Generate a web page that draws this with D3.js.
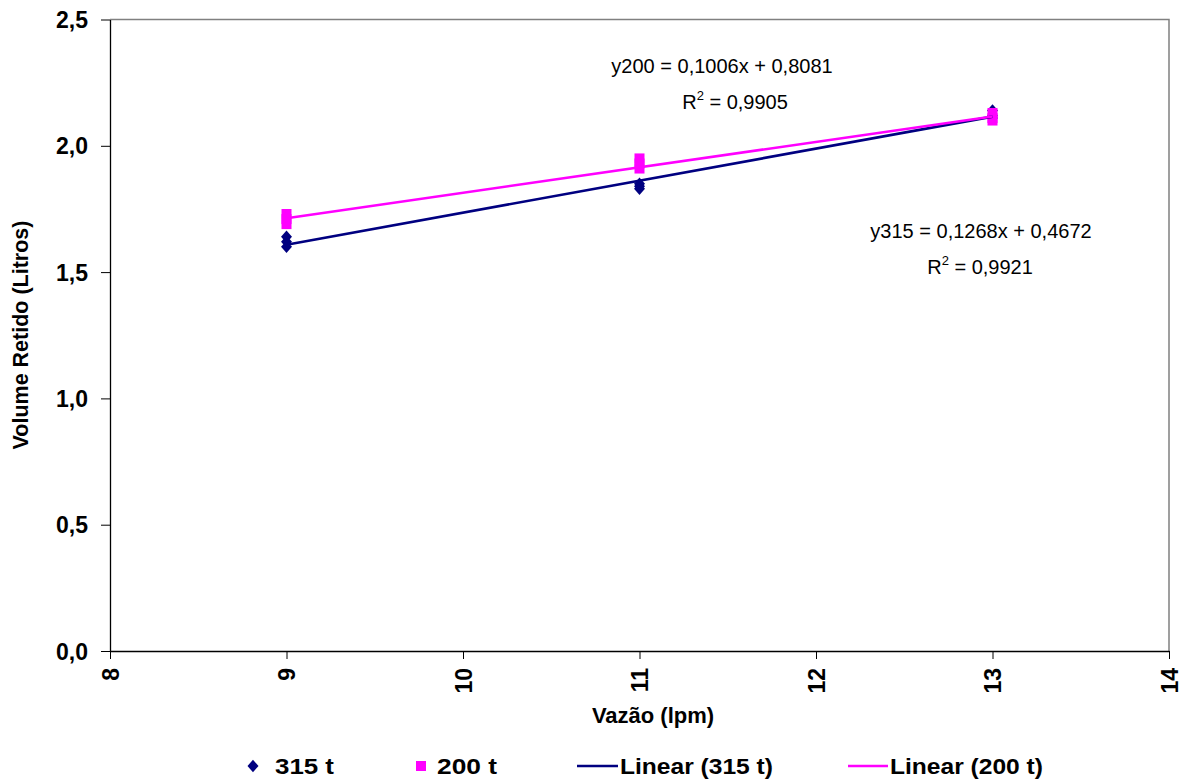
<!DOCTYPE html>
<html><head><meta charset="utf-8">
<script src="https://cdn.jsdelivr.net/npm/d3@7"></script>
<style>body{margin:0;background:#fff}svg{display:block}text{font-family:"Liberation Sans",Arial,sans-serif}</style>
</head><body><svg id="c" width="1184" height="783"></svg>
<script>
const xTicks = [8, 9, 10, 11, 12, 13, 14];
const yTicks = [0, 0.5, 1.0, 1.5, 2.0, 2.5];
const s315x = [9, 9, 9, 11, 11, 11, 13, 13, 13];
const s315y = [1.64, 1.62, 1.60, 1.85, 1.84, 1.83, 2.14, 2.12, 2.11];
const s200x = [9, 9, 9, 11, 11, 11, 13, 13, 13];
const s200y = [1.73, 1.71, 1.69, 1.95, 1.93, 1.91, 2.13, 2.11, 2.10];
const fit315 = {slope: 0.1268, intercept: 0.4672};
const fit200 = {slope: 0.1006, intercept: 0.8081};
const fitRange = [9, 13];
const eq200 = ["y200 = 0,1006x + 0,8081", "0,9905"];
const eq315 = ["y315 = 0,1268x + 0,4672", "0,9921"];
const legendLabels = ["315 t", "200 t", "Linear (315 t)", "Linear (200 t)"];
const navy = "#000080", mag = "#FF00FF";

const svg = d3.select("#c");
const x = d3.scaleLinear().domain([8, 14]).range([110, 1169]);
const y = d3.scaleLinear().domain([0, 2.5]).range([651, 19.5]);
const fmt = v => d3.format(".1f")(v).replace(".", ",");

// plot border (top/right gray)
svg.append("path").attr("d", `M${x(8)},${y(2.5)}H${x(14)}V${y(0)}`)
  .attr("fill", "none").attr("stroke", "#808080").attr("stroke-width", 1.5);

const ya = svg.append("g").attr("transform", `translate(${x(8)},0)`)
  .call(d3.axisLeft(y).tickValues(yTicks).tickFormat(fmt).tickSize(9).tickSizeOuter(0));
ya.select(".domain").attr("stroke", "#000").attr("stroke-width", 1.3);
ya.selectAll(".tick line").attr("stroke", "#000");
ya.selectAll("text").attr("font-size", 23).attr("font-weight", "bold").attr("x", -22).attr("dy", "0.35em")
  .attr("fill", "#000");

const xa = svg.append("g").attr("transform", `translate(0,${y(0)})`)
  .call(d3.axisBottom(x).tickValues(xTicks).tickFormat(d3.format("d")).tickSize(8).tickSizeOuter(0));
xa.select(".domain").attr("stroke", "#000").attr("stroke-width", 1.3);
xa.selectAll(".tick line").attr("stroke", "#000");
xa.selectAll("text").attr("font-size", 23).attr("font-weight", "bold").attr("fill", "#000")
  .attr("transform", "rotate(-90)").attr("text-anchor", "end").attr("x", -17).attr("y", 0).attr("dy", "0.35em");

// axis titles
svg.append("text").attr("x", 653).attr("y", 723).attr("text-anchor", "middle")
  .attr("font-size", 22).attr("font-weight", "bold").text("Vazão (lpm)");
svg.append("text").attr("transform", "translate(28,335) rotate(-90)").attr("text-anchor", "middle")
  .attr("font-size", 21.5).attr("font-weight", "bold").text("Volume Retido (Litros)");

// trend lines
function fitLine(f, color) {
  svg.append("line")
    .attr("x1", x(fitRange[0])).attr("y1", y(f.slope * fitRange[0] + f.intercept))
    .attr("x2", x(fitRange[1])).attr("y2", y(f.slope * fitRange[1] + f.intercept))
    .attr("stroke", color).attr("stroke-width", 2.6);
}

// markers
const diamondType = {draw(ctx, size) { const w = 5.5, h = 6.2;
  ctx.moveTo(0, -h); ctx.lineTo(w, 0); ctx.lineTo(0, h); ctx.lineTo(-w, 0); ctx.closePath(); }};
const diamond = d3.symbol().type(diamondType);
svg.append("g").selectAll("path").data(s315x.map((v, i) => [v, s315y[i]])).join("path")
  .attr("d", diamond).attr("transform", d => `translate(${x(d[0])},${y(d[1])})`).attr("fill", navy);
svg.append("g").selectAll("rect").data(s200x.map((v, i) => [v, s200y[i]])).join("rect")
  .attr("x", d => x(d[0]) - 5).attr("y", d => y(d[1]) - 5).attr("width", 10).attr("height", 10).attr("fill", mag);
fitLine(fit315, navy);
fitLine(fit200, mag);

// equation labels
function eq(cx, cy, rcx, lines) {
  svg.append("text").attr("x", cx).attr("y", cy).attr("text-anchor", "middle").attr("font-size", 20).text(lines[0]);
  const t = svg.append("text").attr("x", rcx).attr("y", cy + 36).attr("text-anchor", "middle").attr("font-size", 20);
  t.append("tspan").text("R");
  t.append("tspan").attr("font-size", 13).attr("dy", -9).text("2");
  t.append("tspan").attr("dy", 9).text(" = " + lines[1]);
}
eq(722, 73, 735, eq200);
eq(981, 238, 980, eq315);

// legend
const ly = 766;
svg.append("path").attr("d", diamond).attr("transform", `translate(253,${ly})`).attr("fill", navy);
svg.append("rect").attr("x", 416).attr("y", ly - 5).attr("width", 10).attr("height", 10).attr("fill", mag);
svg.append("line").attr("x1", 577).attr("x2", 618).attr("y1", ly).attr("y2", ly).attr("stroke", navy).attr("stroke-width", 2.6);
svg.append("line").attr("x1", 848).attr("x2", 888).attr("y1", ly).attr("y2", ly).attr("stroke", mag).attr("stroke-width", 2.6);
const lx = [275, 437, 620, 890];
const lw = [59, 60, 153, 153];
legendLabels.forEach((l, i) => svg.append("text").attr("x", lx[i]).attr("y", ly + 8)
  .attr("font-size", 22).attr("font-weight", "bold")
  .attr("textLength", lw[i]).attr("lengthAdjust", "spacingAndGlyphs").text(l));
</script></body></html>
